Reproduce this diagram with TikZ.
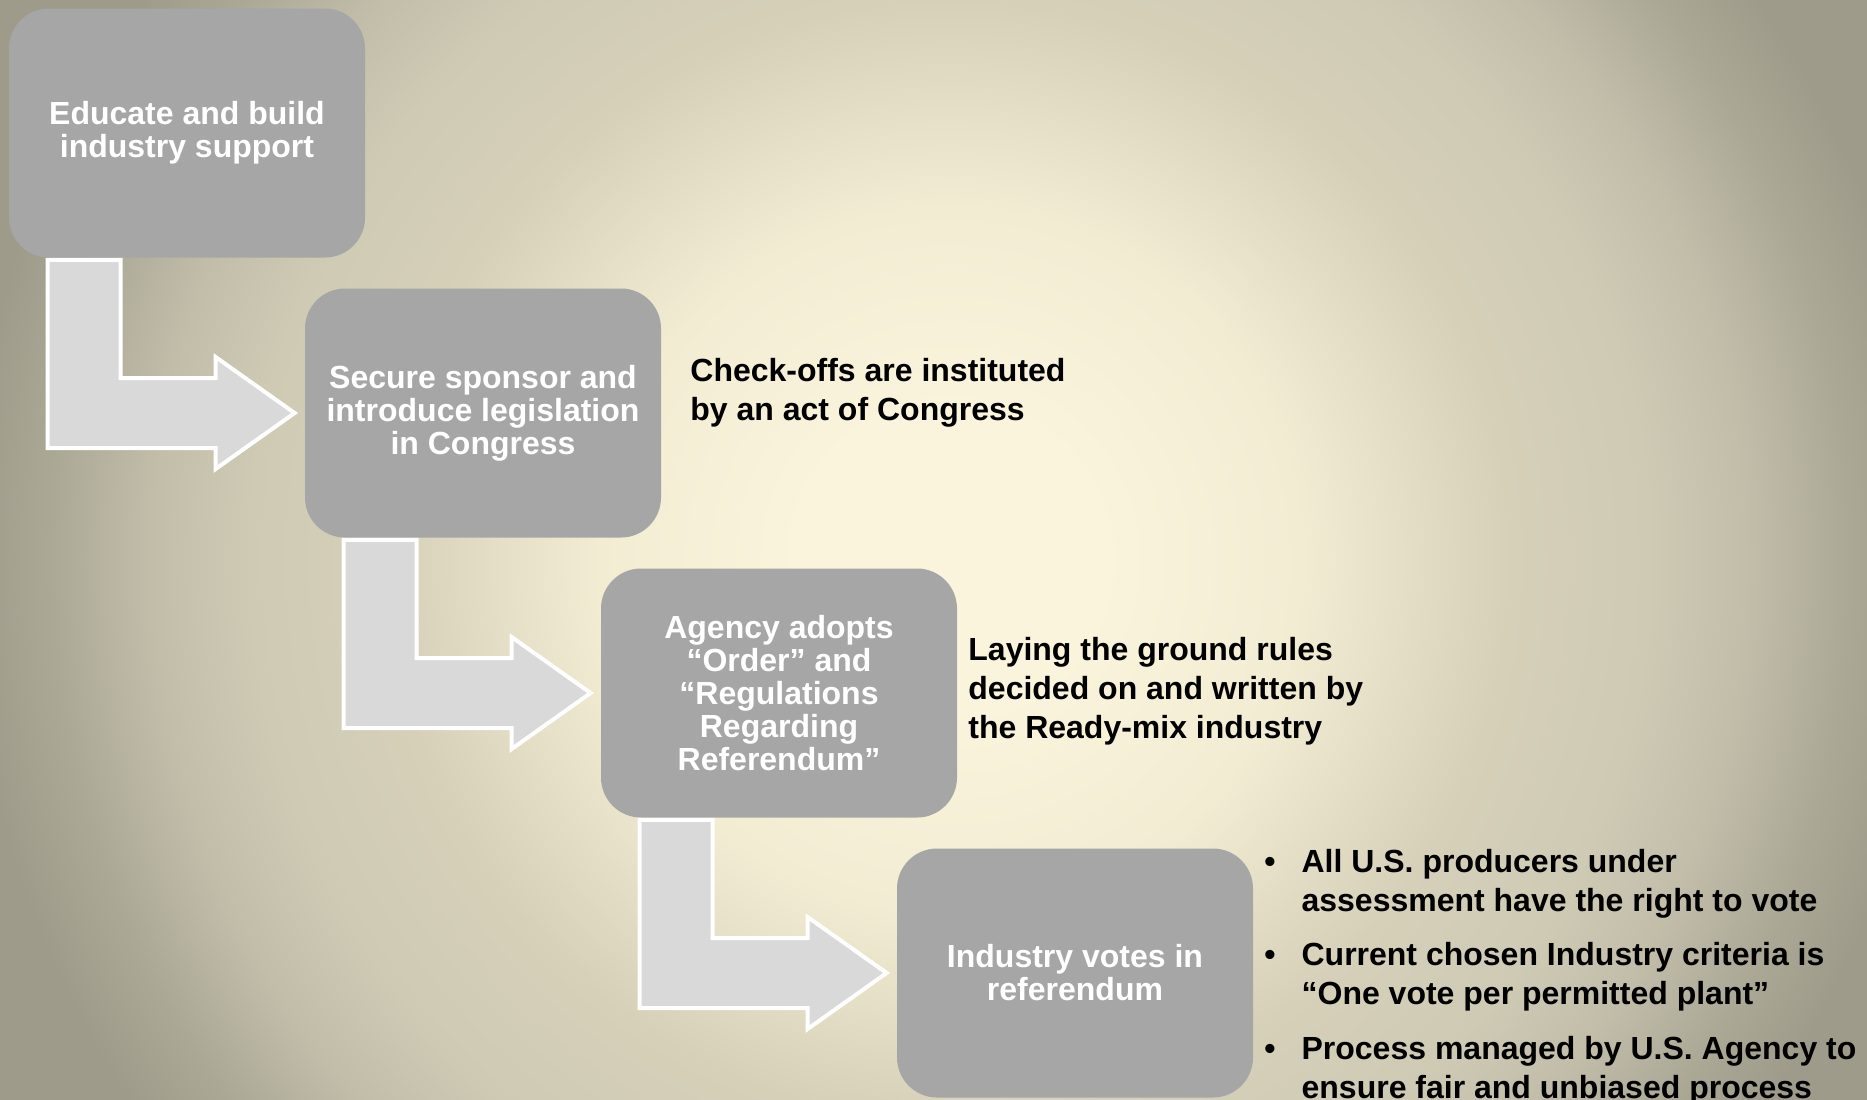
\documentclass[tikz,border=0pt]{standalone}
\usepackage{fontspec}
\setmainfont{Liberation Sans}
\definecolor{bgA}{HTML}{FAF4DC}
\definecolor{bgB}{HTML}{F2ECD3}
\definecolor{bgC}{HTML}{D6D0B9}
\definecolor{bgD}{HTML}{CECAB4}
\definecolor{bgE}{HTML}{C1BDA9}
\definecolor{bgF}{HTML}{ABA896}
\definecolor{bgG}{HTML}{9E9B8A}
\definecolor{boxgray}{HTML}{A6A6A6}
\definecolor{arrowgray}{HTML}{D9D9D9}
\pgfdeclareradialshading{bgglow}{\pgfpoint{0bp}{0bp}}{color(0bp)=(bgA); color(1.9bp)=(bgA); color(4.4bp)=(bgB); color(7bp)=(bgC); color(8.75bp)=(bgD); color(10bp)=(bgE); color(11.25bp)=(bgF); color(12.3bp)=(bgG); color(50bp)=(bgG)}
\tikzset{
  stepbox/.style={rectangle, rounded corners=20pt, fill=boxgray, minimum width=178pt, minimum height=124.5pt, inner sep=0pt, align=center, text=white, font=\fontsize{16}{16.5}\selectfont\bfseries},
  bentarrow/.style={fill=arrowgray, draw=white, line width=2pt, line join=miter},
  note/.style={anchor=west, align=left, inner sep=0pt, font=\fontsize{16}{19.5}\selectfont\bfseries}
}

\begin{document}
\begin{tikzpicture}[x=.5pt,y=-.5pt]
  \useasboundingbox (0,0) rectangle (1867,1099);
  \begin{scope}
    \clip (0,0) rectangle (1867,1099);
    \fill[bgG] (0,0) rectangle (1867,1099);
    \shade[shading=bgglow] (950,560) circle (2000);
  \end{scope}
  \node[stepbox] at (187,133) (s1) {Educate and build\\industry support};
  \node[stepbox] at (483,413) (s2) {Secure sponsor and\\introduce legislation\\in Congress};
  \node[stepbox] at (779,693) (s3) {Agency adopts\\“Order” and\\“Regulations\\Regarding\\Referendum”};
  \node[stepbox] at (1075,973) (s4) {Industry votes in\\referendum};
  \foreach \a/\b in {s1/s2,s2/s3,s3/s4} \draw[bentarrow] ([shift={(39,2)}]\a.south west) -- ([shift={(112,2)}]\a.south west) |- ([shift={(-89,-35)}]\b.west) -- ++(0,-21) -- ([shift={(-10,0)}]\b.west) -- ++(-79,56) -- ++(0,-21) -| ([shift={(39,2)}]\a.south west) -- cycle;
  \node[note] at (690,393) (t2) {Check-offs are instituted\\by an act of Congress};
  \node[note] at (968,691) (t3) {Laying the ground rules\\decided on and written by\\the Ready-mix industry};
  \node[note,anchor=north west] at (1264,845) (t4) {\begin{tabular}{@{}l@{\hspace{13pt}}l@{}}
    \textbullet & All U.S. producers under\\
                & assessment have the right to vote\\[7.5pt]
    \textbullet & Current chosen Industry criteria is\\
                & “One vote per permitted plant”\\[8pt]
    \textbullet & Process managed by U.S. Agency to\\
                & ensure fair and unbiased process
  \end{tabular}};
\end{tikzpicture}
\end{document}
